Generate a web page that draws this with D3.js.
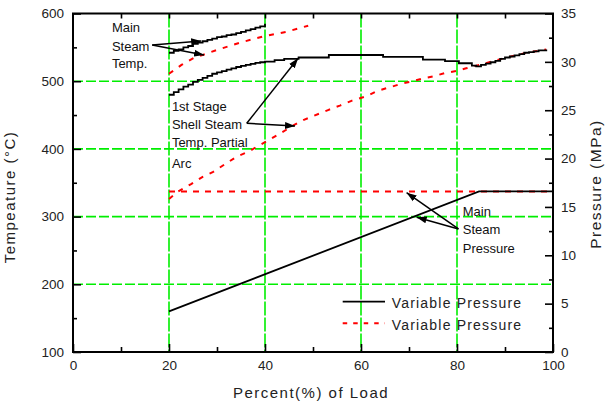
<!DOCTYPE html>
<html><head><meta charset="utf-8">
<script src="https://cdn.jsdelivr.net/npm/d3@7"></script>
<style>
body{margin:0;background:#fff}
svg{display:block}
text{font-family:"Liberation Sans",Arial,sans-serif}
</style>
</head><body>
<svg id="c" width="612" height="410"></svg>
<script>
// ---- data ----
const loadTicks = [0, 20, 40, 60, 80, 100];
const loadMinor = [10, 30, 50, 70, 90];
const loadTopTicks = [10, 20, 30, 40, 50, 60, 70, 80, 90];
const tempTicks = [100, 200, 300, 400, 500, 600];
const tempMinor = [150, 250, 350, 450, 550];
const pressTicks = [0, 5, 10, 15, 20, 25, 30, 35];
const pressMinor = [2.5, 7.5, 12.5, 17.5, 22.5, 27.5, 32.5];
const gridLoad = [20, 40, 60, 80];
const gridTemp = [200, 300, 400, 500];

// Main steam temperature, variable pressure (black, stepped)
const mainTempVar = [[20,542],[21,545],[22,547],[23,550],[24,552],[25,555],[26,557],[27,559],[28,561],[29,563],[30,565],[31,566],[32,568],[33,569],[34,571],[35,573],[36,575],[37,577],[38,579],[39,581],[40,585]];
// Main steam temperature, constant pressure (red dashed)
const mainTempConst = [[20,511],[22.6,524],[25.1,534],[29.9,546],[34.8,557],[39.6,566],[44.5,573],[49,582]];
// 1st stage shell steam temperature, variable pressure (black, stepped)
const stageTempVar = [[20,480],[21,484],[22,488],[23,492],[24,495],[25,499],[26,502],[27,505],[28,508],[29,511],[30,513],[31,515],[32,517],[33,519],[34,521],[35,522.5],[36,524],[37,525.5],[38,527],[39,528],[40,529],[42,531],[44,533],[47,535],[53.3,538.7],[64.6,536],[72.9,532],[77.5,529.6],[80.4,526.5],[83.1,523],[84,522],[85,524],[86,526],[87,528],[88,530],[89,533],[90,535],[91,536.5],[92,538],[93,540],[94,542],[95,543],[96,544],[97,545.5],[98.6,547]];
// 1st stage shell steam temperature, partial arc (red dashed)
const stageTempConst = [[20,326],[21.9,337],[24.6,348],[27.1,359],[29.2,366],[32,379],[34.2,389],[36.6,396],[38.7,405],[40.8,413],[43.2,423],[46,435],[48.1,443],[50.2,449],[53,457],[55.6,464],[58,471],[61.2,478],[63.5,486],[66,491],[68.7,497],[70.8,500],[72.9,504],[75,507],[77.4,512],[79.8,515],[81.9,519],[84,523],[86.2,527],[90.3,535],[94.5,542],[98.6,547]];
// Main steam pressure (MPa)
const pressVar = [[20,4.2],[84.6,16.6],[100,16.6]];
const pressConst = [[20,16.6],[100,16.6]];

const legendLabels = ["Variable Pressure", "Variable Pressure"];

// annotations in data units (load %, temperature)
const annMainTemp = {lines:["Main","Steam","Temp."], at:[8.1,572]};
const annStage = {lines:["1st Stage","Shell Steam","Temp. Partial","Arc"], at:[20.6,456]};
const annPress = {lines:["Main","Steam","Pressure"], at:[81.2,301]};
const arrows = [
  {from:[16.5,553.5], to:[26.7,559.4]},
  {from:[16.5,553.5], to:[27.3,538.7]},
  {from:[36.2,437.8], to:[46.9,533.8]},
  {from:[36.2,437.8], to:[46.25,433.8]},
  {from:[80.3,281.7], to:[69.5,335.3]},
  {from:[80.3,281.7], to:[71.6,299]}
];

// ---- drawing ----
const svg = d3.select("#c");
const x = d3.scaleLinear([0,100],[73,553]);
const yT = d3.scaleLinear([100,600],[352,13.5]);
const yP = d3.scaleLinear([0,35],[352,13.5]);
const FONT = '"Liberation Sans",Arial,sans-serif';

// grid
const grid = svg.append("g");
grid.selectAll("line.h").data(gridTemp).join("line")
  .attr("x1", x(0)).attr("x2", x(100))
  .attr("y1", d=>yT(d)).attr("y2", d=>yT(d))
  .attr("stroke","#00ee00").attr("stroke-width",1.6).attr("stroke-dasharray","10,3");
grid.selectAll("line.v").data(gridLoad).join("line")
  .attr("x1", d=>x(d)).attr("x2", d=>x(d))
  .attr("y1", yT(600)).attr("y2", yT(100))
  .attr("stroke","#00ee00").attr("stroke-width",1.6).attr("stroke-dasharray","14,2");

// curves
const lineT = d3.line().x(d=>x(d[0])).y(d=>yT(d[1]));
const lineTStep = d3.line().x(d=>x(d[0])).y(d=>yT(d[1])).curve(d3.curveStepAfter);
const lineP = d3.line().x(d=>x(d[0])).y(d=>yP(d[1]));
const curves = svg.append("g").attr("fill","none");
curves.append("path").attr("d", lineT(mainTempConst)).attr("stroke","#ff0000").attr("stroke-width",2).attr("stroke-dasharray","5,7");
curves.append("path").attr("d", lineT(stageTempConst)).attr("stroke","#ff0000").attr("stroke-width",2).attr("stroke-dasharray","5,7");
curves.append("path").attr("d", lineP(pressConst)).attr("stroke","#ff0000").attr("stroke-width",2).attr("stroke-dasharray","6,6");
curves.append("path").attr("d", lineTStep(mainTempVar)).attr("stroke","#000").attr("stroke-width",1.8);
curves.append("path").attr("d", lineTStep(stageTempVar)).attr("stroke","#000").attr("stroke-width",1.8);
curves.append("path").attr("d", lineP(pressVar)).attr("stroke","#000").attr("stroke-width",1.8);

// axes
function styleAxis(g){
  g.select(".domain").remove();
  g.selectAll(".tick line").attr("stroke","#000").attr("stroke-width",1.6);
  g.selectAll(".tick text").attr("fill","#222").style("font-size","13.5px").style("font-family",FONT);
}
svg.append("g").call(d3.axisLeft(yT).tickValues(tempTicks).tickSize(-8).tickPadding(9)).attr("transform","translate(73,0)").call(styleAxis);
svg.append("g").call(d3.axisLeft(yT).tickValues(tempMinor).tickSize(-4).tickFormat("")).attr("transform","translate(73,0)").call(styleAxis);
svg.append("g").call(d3.axisRight(yP).tickValues(pressTicks).tickSize(-8).tickPadding(8)).attr("transform","translate(553,0)").call(styleAxis);
svg.append("g").call(d3.axisRight(yP).tickValues(pressMinor).tickSize(-4).tickFormat("")).attr("transform","translate(553,0)").call(styleAxis);
svg.append("g").call(d3.axisBottom(x).tickValues(loadTicks).tickSize(-8).tickPadding(8.5)).attr("transform","translate(0,352)").call(styleAxis);
svg.append("g").call(d3.axisBottom(x).tickValues(loadMinor).tickSize(-5).tickFormat("")).attr("transform","translate(0,352)").call(styleAxis);
svg.append("g").call(d3.axisTop(x).tickValues(loadTopTicks).tickSize(-5).tickFormat("")).attr("transform","translate(0,13.5)").call(styleAxis);

// frame
svg.append("rect").attr("x",x(0)).attr("y",yT(600)).attr("width",x(100)-x(0)).attr("height",yT(100)-yT(600))
  .attr("fill","none").attr("stroke","#000").attr("stroke-width",2);

// axis titles
svg.append("text").attr("x",311).attr("y",397.5).attr("text-anchor","middle")
  .style("font-size","15px").style("letter-spacing","1.5px").attr("fill","#222").text("Percent(%) of Load");
svg.append("text").attr("transform","translate(15,197) rotate(-90)").attr("text-anchor","middle")
  .style("font-size","15px").style("letter-spacing","1.5px").attr("fill","#222").text("Tempeature (°C)");
svg.append("text").attr("transform","translate(601,184) rotate(-90)").attr("text-anchor","middle")
  .style("font-size","15.5px").style("letter-spacing","1.5px").attr("fill","#222").text("Pressure (MPa)");

// annotations
function ann(a, gaps){
  const t = svg.append("text").attr("x",x(a.at[0])).attr("y",yT(a.at[1]))
    .style("font-size","13px").attr("fill","#111");
  a.lines.forEach((s,i)=>{
    t.append("tspan").attr("x",x(a.at[0])).attr("dy", i===0?0:gaps[i-1]).text(s);
  });
}
ann(annMainTemp,[18.4,17.6]);
ann(annStage,[18,17.7,21]);
ann(annPress,[18,19.3]);

// arrows
const defs = svg.append("defs");
defs.append("marker").attr("id","ah").attr("viewBox","0 -4 10 8").attr("refX",10).attr("refY",0)
  .attr("markerWidth",10).attr("markerHeight",8).attr("markerUnits","userSpaceOnUse").attr("orient","auto")
  .append("path").attr("d","M0,-3.5L10,0L0,3.5Z").attr("fill","#000");
svg.append("g").selectAll("line").data(arrows).join("line")
  .attr("x1",d=>x(d.from[0])).attr("y1",d=>yT(d.from[1]))
  .attr("x2",d=>x(d.to[0])).attr("y2",d=>yT(d.to[1]))
  .attr("stroke","#000").attr("stroke-width",1.5).attr("marker-end","url(#ah)");

// legend
const leg = svg.append("g");
const legY = [301.7, 323.3];
leg.append("line").attr("x1",342.7).attr("x2",385).attr("y1",legY[0]).attr("y2",legY[0]).attr("stroke","#000").attr("stroke-width",1.8);
leg.append("line").attr("x1",342.7).attr("x2",385).attr("y1",legY[1]).attr("y2",legY[1]).attr("stroke","#ff0000").attr("stroke-width",2).attr("stroke-dasharray","4.5,6");
legendLabels.forEach((s,i)=>{
  leg.append("text").attr("x",391.7).attr("y",legY[i]+6.3).style("font-size","14px").style("letter-spacing","1.2px").attr("fill","#222").text(s);
});
</script>
</body></html>
